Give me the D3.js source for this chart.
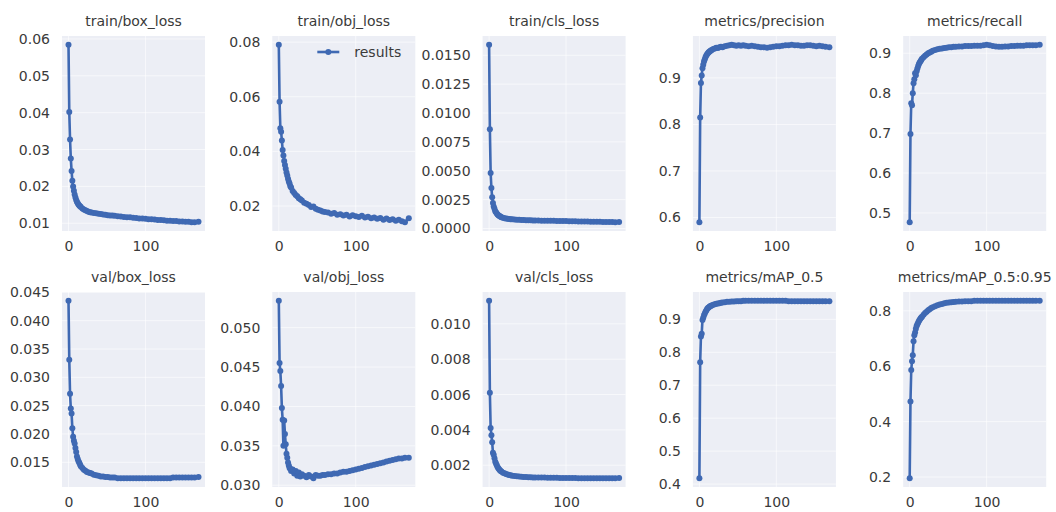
<!DOCTYPE html>
<html>
<head>
<meta charset="utf-8">
<script src="https://cdn.jsdelivr.net/npm/d3@7"></script>
<style>
  body { margin: 0; background: #fff; }
  svg { display: block; font-family: "DejaVu Sans", sans-serif; }
</style>
</head>
<body>
<div id="chart"></div>
<script>
// results.png style grid: 2 rows x 5 panels
var svgWidth = 1056;
var svgHeight = 512;

// Data
// ==============================
var epochs = [0,1,2,3,4,5,6,7,8,9,
  10,11,12,13,14,15,16,18,20,22,
  24,26,28,30,33,36,39,42,45,48,
  51,54,57,60,64,68,72,76,80,84,
  88,92,96,100,104,108,112,116,120,124,
  128,132,136,140,144,148,152,156,160,164,
  169];

var titles = ["train/box_loss", "train/obj_loss", "train/cls_loss", "metrics/precision", "metrics/recall",
  "val/box_loss", "val/obj_loss", "val/cls_loss", "metrics/mAP_0.5", "metrics/mAP_0.5:0.95"];

var trainBoxLoss = [0.0584,0.0402,0.0327,0.0276,0.0242,0.0215,0.0200,0.0188,0.0178,0.0170,
  0.0163,0.0158,0.0154,0.0151,0.0148,0.0146,0.0144,0.0140,0.0137,0.0135,
  0.0133,0.0131,0.0130,0.0129,0.0128,0.0127,0.0126,0.0125,0.0124,0.0123,
  0.0122,0.0121,0.0121,0.0120,0.0119,0.0118,0.0117,0.0116,0.0116,0.0115,
  0.0114,0.0113,0.0113,0.0112,0.0111,0.0111,0.0110,0.0109,0.0109,0.0108,
  0.0107,0.0107,0.0106,0.0106,0.0105,0.0105,0.0104,0.0104,0.0103,0.0103,
  0.0104];

var trainObjLoss = [0.0790,0.0582,0.0485,0.0472,0.0440,0.0405,0.0385,0.0365,0.0350,0.0336,
  0.0323,0.0312,0.0300,0.0290,0.0282,0.0272,0.0268,0.0255,0.0248,0.0240,
  0.0236,0.0228,0.0225,0.0220,0.0212,0.0208,0.0204,0.0196,0.0198,0.0190,
  0.0186,0.0184,0.0180,0.0178,0.0176,0.0172,0.0174,0.0168,0.0170,0.0165,
  0.0168,0.0162,0.0166,0.0163,0.0160,0.0164,0.0158,0.0161,0.0155,0.0158,
  0.0153,0.0156,0.0150,0.0154,0.0149,0.0152,0.0146,0.0150,0.0144,0.0141,
  0.0155];

var trainClsLoss = [0.0159,0.0086,0.0048,0.0035,0.0027,0.0022,0.0019,0.0017,0.0015,0.0014,
  0.00130,0.00122,0.00115,0.00110,0.00105,0.00101,0.00098,0.00093,0.00089,0.00086,
  0.00084,0.00082,0.00080,0.00079,0.00077,0.00076,0.00075,0.00074,0.00073,0.00072,
  0.00071,0.00071,0.00070,0.00070,0.00069,0.00068,0.00068,0.00067,0.00066,0.00066,
  0.00065,0.00065,0.00064,0.00064,0.00063,0.00062,0.00062,0.00061,0.00061,0.00060,
  0.00060,0.00059,0.00059,0.00058,0.00058,0.00057,0.00057,0.00056,0.00056,0.00055,
  0.00056];

var precision = [0.590,0.815,0.889,0.905,0.921,0.928,0.935,0.940,0.945,0.948,
  0.951,0.953,0.955,0.956,0.958,0.959,0.960,0.962,0.963,0.965,
  0.964,0.966,0.967,0.966,0.968,0.969,0.970,0.971,0.970,0.969,
  0.970,0.969,0.970,0.969,0.968,0.969,0.968,0.967,0.966,0.966,
  0.965,0.966,0.967,0.968,0.968,0.969,0.970,0.970,0.971,0.970,
  0.970,0.969,0.969,0.970,0.970,0.969,0.968,0.969,0.968,0.967,
  0.966];

var recall = [0.477,0.698,0.775,0.770,0.800,0.825,0.835,0.850,0.845,0.855,
  0.862,0.868,0.873,0.877,0.880,0.883,0.886,0.890,0.894,0.897,
  0.900,0.902,0.904,0.906,0.908,0.910,0.911,0.912,0.913,0.914,
  0.915,0.915,0.916,0.916,0.917,0.917,0.918,0.918,0.918,0.919,
  0.919,0.919,0.920,0.921,0.920,0.918,0.917,0.916,0.916,0.917,
  0.917,0.918,0.918,0.919,0.919,0.919,0.920,0.920,0.920,0.920,
  0.921];

var valBoxLoss = [0.0435,0.0331,0.0271,0.0245,0.0236,0.0210,0.0195,0.0188,0.0183,0.0175,
  0.0168,0.0160,0.0156,0.0152,0.0149,0.0146,0.0143,0.0140,0.0137,0.0135,
  0.0133,0.0132,0.0131,0.0130,0.0128,0.0127,0.0126,0.0125,0.0125,0.0124,
  0.0124,0.0123,0.0123,0.0123,0.0122,0.0122,0.0122,0.0122,0.0122,0.0122,
  0.0122,0.0122,0.0122,0.0122,0.0122,0.0122,0.0122,0.0122,0.0122,0.0122,
  0.0122,0.0122,0.0123,0.0123,0.0123,0.0123,0.0123,0.0123,0.0123,0.0123,
  0.0124];

var valObjLoss = [0.0534,0.0455,0.0445,0.0426,0.0398,0.0383,0.0350,0.0382,0.0365,0.0352,
  0.0340,0.0335,0.0329,0.0325,0.0322,0.0321,0.0318,0.0320,0.0315,0.0318,
  0.0312,0.0316,0.0311,0.0314,0.0312,0.0310,0.0313,0.0311,0.0309,0.0313,
  0.0312,0.0312,0.0313,0.0313,0.0314,0.0314,0.0315,0.0315,0.0316,0.0317,
  0.0317,0.0318,0.0319,0.0320,0.0321,0.0322,0.0323,0.0324,0.0325,0.0326,
  0.0327,0.0328,0.0329,0.0330,0.0331,0.0332,0.0333,0.0334,0.0334,0.0335,
  0.0335];

var valClsLoss = [0.0113,0.0061,0.0041,0.0037,0.0033,0.0027,0.0026,0.0024,0.0022,0.0021,
  0.00200,0.00190,0.00183,0.00177,0.00172,0.00168,0.00164,0.00158,0.00154,0.00150,
  0.00147,0.00145,0.00143,0.00141,0.00139,0.00137,0.00136,0.00135,0.00134,0.00133,
  0.00132,0.00132,0.00131,0.00131,0.00130,0.00130,0.00130,0.00129,0.00129,0.00129,
  0.00129,0.00128,0.00128,0.00128,0.00128,0.00128,0.00128,0.00127,0.00127,0.00127,
  0.00127,0.00127,0.00127,0.00127,0.00127,0.00127,0.00127,0.00127,0.00127,0.00127,
  0.00128];

var mAP50 = [0.418,0.770,0.848,0.856,0.898,0.905,0.912,0.918,0.923,0.927,
  0.931,0.934,0.936,0.938,0.940,0.941,0.942,0.944,0.946,0.947,
  0.948,0.949,0.950,0.951,0.952,0.953,0.953,0.954,0.954,0.955,
  0.955,0.955,0.956,0.956,0.956,0.956,0.956,0.956,0.956,0.956,
  0.956,0.956,0.956,0.956,0.956,0.956,0.956,0.955,0.955,0.955,
  0.955,0.955,0.955,0.955,0.955,0.955,0.955,0.955,0.955,0.955,
  0.955];

var mAP5095 = [0.196,0.473,0.586,0.618,0.640,0.690,0.712,0.722,0.735,0.745,
  0.752,0.758,0.763,0.768,0.772,0.776,0.779,0.786,0.792,0.797,
  0.802,0.806,0.810,0.813,0.817,0.820,0.823,0.825,0.827,0.829,
  0.830,0.831,0.832,0.833,0.834,0.834,0.835,0.835,0.835,0.836,
  0.836,0.836,0.836,0.836,0.836,0.836,0.836,0.836,0.836,0.836,
  0.836,0.836,0.836,0.836,0.836,0.836,0.836,0.836,0.836,0.836,
  0.836];

// y tick values per panel, and x tick values shared
var yTicks = [
  [0.01, 0.02, 0.03, 0.04, 0.05, 0.06],
  [0.02, 0.04, 0.06, 0.08],
  [0, 0.0025, 0.005, 0.0075, 0.01, 0.0125, 0.015],
  [0.6, 0.7, 0.8, 0.9],
  [0.5, 0.6, 0.7, 0.8, 0.9],
  [0.015, 0.02, 0.025, 0.03, 0.035, 0.04, 0.045],
  [0.03, 0.035, 0.04, 0.045, 0.05],
  [0.002, 0.004, 0.006, 0.008, 0.01],
  [0.4, 0.5, 0.6, 0.7, 0.8, 0.9],
  [0.2, 0.4, 0.6, 0.8]
];
var yFormats = [".2f", ".2f", ".4f", ".1f", ".1f", ".3f", ".3f", ".3f", ".1f", ".1f"];
var xTicks = [0, 100];

var seriesList = [trainBoxLoss, trainObjLoss, trainClsLoss, precision, recall,
  valBoxLoss, valObjLoss, valClsLoss, mAP50, mAP5095];

// Layout
// ==============================
var plotLeft = 62;
var colStep = 210.3;
var rowTops = [36, 292];
var width = 143;
var height = 195;
var lineColor = "#3f69b3";
var textColor = "#3a3a3a";

var svg = d3.select("#chart")
  .append("svg")
  .attr("width", svgWidth)
  .attr("height", svgHeight);

// matplotlib-like 5% margins
function padded(ext) {
  var pad = (ext[1] - ext[0]) * 0.05;
  return [ext[0] - pad, ext[1] + pad];
}

var xLinearScale = d3.scaleLinear()
  .domain(padded(d3.extent(epochs)))
  .range([0, width]);

seriesList.forEach(function(values, i) {
  var col = i % 5;
  var row = Math.floor(i / 5);
  var data = epochs.map(function(e, k) { return {epoch: e, value: values[k]}; });

  var chartGroup = svg.append("g")
    .attr("transform", `translate(${plotLeft + col * colStep}, ${rowTops[row]})`);

  var yLinearScale = d3.scaleLinear()
    .domain(padded(d3.extent(values)))
    .range([height, 0]);

  // background + faint grid
  chartGroup.append("rect")
    .attr("width", width)
    .attr("height", height)
    .attr("fill", "#eceef5");

  chartGroup.append("g")
    .selectAll("line")
    .data(yTicks[i])
    .enter()
    .append("line")
    .attr("x1", 0)
    .attr("x2", width)
    .attr("y1", d => yLinearScale(d))
    .attr("y2", d => yLinearScale(d))
    .attr("stroke", "#fff")
    .attr("stroke-opacity", 0.6)
    .attr("stroke-width", 1);

  chartGroup.append("g")
    .selectAll("line")
    .data(xTicks)
    .enter()
    .append("line")
    .attr("x1", d => xLinearScale(d))
    .attr("x2", d => xLinearScale(d))
    .attr("y1", 0)
    .attr("y2", height)
    .attr("stroke", "#fff")
    .attr("stroke-opacity", 0.6)
    .attr("stroke-width", 1);

  // axes
  var leftAxis = d3.axisLeft(yLinearScale)
    .tickValues(yTicks[i])
    .tickFormat(d3.format(yFormats[i]))
    .tickSize(0)
    .tickPadding(12);

  var bottomAxis = d3.axisBottom(xLinearScale)
    .tickValues(xTicks)
    .tickFormat(d3.format("d"))
    .tickSize(0)
    .tickPadding(10);

  var yAxisG = chartGroup.append("g").call(leftAxis);
  var xAxisG = chartGroup.append("g")
    .attr("transform", `translate(0, ${height})`)
    .call(bottomAxis);

  [yAxisG, xAxisG].forEach(function(g) {
    g.select(".domain").remove();
    g.selectAll("text")
      .attr("fill", textColor)
      .style("font-size", "14px")
      .style("font-family", "DejaVu Sans");
  });

  // line + markers
  var line = d3.line()
    .x(d => xLinearScale(d.epoch))
    .y(d => yLinearScale(d.value));

  chartGroup.append("path")
    .datum(data)
    .attr("d", line)
    .attr("fill", "none")
    .attr("stroke", lineColor)
    .attr("stroke-width", 2.6)
    .attr("stroke-linejoin", "round");

  chartGroup.append("g")
    .selectAll("circle")
    .data(data)
    .enter()
    .append("circle")
    .attr("cx", d => xLinearScale(d.epoch))
    .attr("cy", d => yLinearScale(d.value))
    .attr("r", 3)
    .attr("fill", lineColor);

  // title
  chartGroup.append("text")
    .attr("x", width / 2)
    .attr("y", -10)
    .attr("text-anchor", "middle")
    .attr("fill", textColor)
    .style("font-size", "14px")
    .text(titles[i]);

  // legend only on second panel
  if (i === 1) {
    var legend = chartGroup.append("g")
      .attr("transform", "translate(45, 16)");
    legend.append("line")
      .attr("x1", 0).attr("x2", 22)
      .attr("stroke", lineColor)
      .attr("stroke-width", 2.6);
    legend.append("circle")
      .attr("cx", 11)
      .attr("r", 3)
      .attr("fill", lineColor);
    legend.append("text")
      .attr("x", 37)
      .attr("dy", "0.35em")
      .attr("fill", textColor)
      .style("font-size", "14px")
      .text("results");
  }
});
</script>
</body>
</html>
